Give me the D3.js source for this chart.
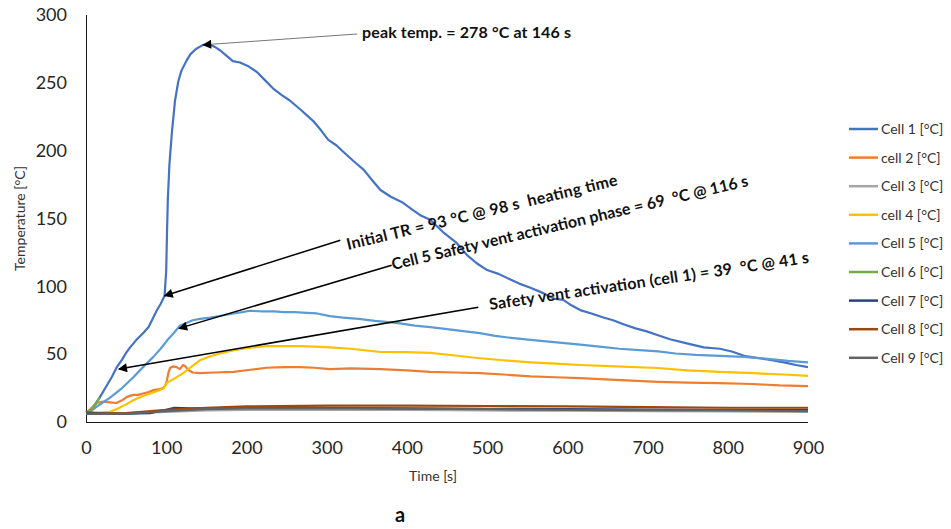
<!DOCTYPE html>
<meta charset="utf-8">
<html>
<head>
<script src="https://cdn.jsdelivr.net/npm/d3@7"></script>
<style>
body { margin:0; background:#fff; }
svg text { font-family:Lato, 'Open Sans', sans-serif; }
.y-axis text, .x-axis text { font-size:18px; fill:#262626; }
.y-axis path, .x-axis path { stroke:#1a1a1a; stroke-width:1; }
.series { fill:none; stroke-width:2.2; stroke-linejoin:round; }
.legend text { font-size:14px; fill:#333; }
.note { font-size:16px; font-weight:bold; fill:#111; white-space:pre; }
</style>
</head>
<body>
<script>

// ---- data (time [s], temperature [°C]) ----
var cell1 = [[0,7],[5,9],[10,12],[17,18],[25,26],[32,33],[38,40],[45,46],[50,51],[55,55],[62,60],[67,63],[72,66],[78,70],[83,76],[88,82],[93,87],[98,93],[100,112],[101,140],[102,164],[104,190],[107,213],[111,237],[115,251],[119,259],[125,266],[130,271],[137,275],[146,278],[155,278],[162,276],[167,274],[175,270],[183,266],[192,265],[203,262],[213,258],[223,252],[233,246],[244,241],[254,237],[268,230],[283,222],[293,215],[302,208],[312,204],[321,199],[334,192],[346,186],[357,178],[367,171],[380,166],[394,162],[408,156],[418,152],[429,149],[445,140],[462,132],[475,123],[487,117],[500,112],[515,109],[529,105],[540,102],[554,99],[570,95],[583,91],[595,90],[605,86],[616,82.5],[630,80],[645,77],[657,75],[670,72],[685,69],[698,67],[713,64],[728,61],[749,58],[770,55],[790,54],[805,52],[822,48.5],[840,47],[853,45.7],[870,44],[885,42],[900,40.5]];
var cell2 = [[0,7],[5,9],[13,14],[21,15],[30,14.5],[38,14],[45,16],[51,18.5],[59,20],[65,20],[71,21],[78,22],[84,23.5],[90,24],[96,25],[99,27],[101,31],[103,37],[105,40],[109,41],[113,40.5],[117,39],[121,42],[124,41],[127,38.5],[133,36.5],[142,36],[160,36.5],[184,37],[205,38.5],[225,40],[247,40.5],[267,40.5],[285,40],[304,39],[330,39.5],[367,39],[400,38],[429,37],[460,36.5],[491,36],[520,35],[554,33.6],[585,33],[616,32.4],[660,31],[713,29.6],[750,29],[790,28.7],[830,28],[865,27],[900,26.5]];
var cell3 = [[0,6.5],[50,6.5],[100,7.5],[150,8.5],[200,9],[300,9],[400,9],[500,8.5],[600,8.3],[700,8],[800,7.8],[900,7.5]];
var cell4 = [[0,7],[15,7],[30,7.5],[40,10],[50,13],[59,16],[70,19],[80,21],[92,23.5],[97,25],[101,29],[110,32],[121,36],[130,40],[142,45.5],[155,48.5],[170,51],[184,53],[200,54.5],[225,56],[245,56],[267,56],[285,55.5],[304,55],[330,54],[367,51.6],[400,51.5],[429,51],[460,49],[491,47],[520,45.5],[554,44],[585,43],[616,42],[660,41],[713,39.8],[749,38],[790,37],[832,36],[870,35],[900,34]];
var cell5 = [[0,7],[5,7.5],[15,12],[30,18],[45,25],[59,33],[72,41],[84,48],[93,54],[101,60],[110,66],[117,71],[125,73],[133,75],[142,76],[155,77],[170,78.5],[184,80],[195,81],[204,82],[220,81.5],[235,81.5],[246,81],[260,81],[275,80.5],[288,80],[304,78],[320,77],[340,76],[360,74.5],[387,73],[410,71],[429,70],[450,68.5],[470,67],[491,65.5],[510,63.5],[530,62],[554,60.5],[580,59],[600,58],[616,57],[640,55.5],[665,54],[690,53],[713,52],[735,50.5],[760,49.5],[790,48.7],[820,48],[850,46.5],[875,45],[900,44]];
var cell6 = [[0,7],[5,8],[10,11],[17,18]];
var cell7 = [[0,7],[40,6],[80,6.5],[100,9],[110,10.5],[130,10],[200,10.5],[300,10.5],[400,10],[500,9.7],[600,9.5],[700,9.2],[800,9],[900,9]];
var cell8 = [[0,6],[50,6.5],[100,9],[150,10.5],[200,11.5],[300,12],[400,12],[500,11.8],[600,11.5],[700,11],[800,10.5],[900,10.5]];
var cell9 = [[0,6],[50,6],[100,8],[150,9.5],[200,10],[300,10],[400,9.8],[500,9.5],[600,9],[700,8.8],[800,8.5],[900,8]];

var seriesNames = ["Cell 1 [°C]", "cell 2 [°C]", "Cell 3 [°C]", "cell 4 [°C]", "Cell 5 [°C]",
                   "Cell 6 [°C]", "Cell 7 [°C]", "Cell 8 [°C]", "Cell 9 [°C]"];
var seriesData = [cell1, cell2, cell3, cell4, cell5, cell6, cell7, cell8, cell9];
var colors = ["#4472C4", "#ED7D31", "#A5A5A5", "#FFC000", "#5B9BD5",
              "#70AD47", "#264478", "#9E480E", "#636363"];

var xTicks = [0, 100, 200, 300, 400, 500, 600, 700, 800, 900];
var yTicks = [0, 50, 100, 150, 200, 250, 300];

// annotations: label text, arrow target (data), line start (data)
var noteTexts = ["peak temp. = 278 °C at 146 s",
                 "Initial TR = 93 °C @ 98 s  heating time",
                 "Cell 5 Safety vent activation phase = 69  °C @ 116 s",
                 "Safety vent activation (cell 1) = 39  °C @ 41 s"];
var noteTargets = [[146, 278], [98, 93], [116, 69], [41, 39]];
var noteStarts = [[338, 286], [317, 134], [381, 115.5], [489, 84.5]];

//Margin conventions
var m = {top:15, left:86},
    w = 722,
    h = 407;

var svg = d3.select("body")
    .append("svg")
    .attr("width", 951)
    .attr("height", 529);

var g = svg.append("g")
    .attr("transform", `translate(${m.left}, ${m.top})`);

var x = d3.scaleLinear().domain([0, 900]).range([0, w]);
var y = d3.scaleLinear().domain([0, 300]).range([h, 0]);

//Axes
g.append("g")
    .attr("class", "x-axis")
    .attr("transform", `translate(0, ${h})`)
    .call(d3.axisBottom(x).tickValues(xTicks).tickSize(0).tickPadding(19))
    .call(a => a.select(".domain").attr("d", `M0,0.5H${w}`));

g.append("g")
    .attr("class", "y-axis")
    .call(d3.axisLeft(y).tickValues(yTicks).tickSize(0).tickPadding(19))
    .call(a => a.select(".domain").attr("d", `M0.5,${h}V0`));

//Axis titles
svg.append("text")
    .attr("transform", `translate(25, ${m.top + h / 2}) rotate(-90)`)
    .attr("text-anchor", "middle")
    .style("font-size", "14px")
    .style("fill", "#333")
    .text("Temperature [°C]");

svg.append("text")
    .attr("x", m.left + w / 2 - 14)
    .attr("y", 481)
    .attr("text-anchor", "middle")
    .style("font-size", "14px")
    .style("fill", "#333")
    .text("Time [s]");

svg.append("text")
    .attr("x", 400)
    .attr("y", 522)
    .attr("text-anchor", "middle")
    .style("font-size", "20px")
    .style("font-weight", "bold")
    .style("fill", "#111")
    .text("a");

//Series
var line = d3.line()
    .x(d => x(d[0]))
    .y(d => y(d[1]));

g.selectAll(".series")
    .data(seriesData)
    .enter()
    .append("path")
    .attr("class", "series")
    .attr("stroke", (d, i) => colors[i])
    .attr("d", line);

//Arrow marker
svg.append("defs").append("marker")
    .attr("id", "arrow")
    .attr("viewBox", "0 0 10 10")
    .attr("refX", 9)
    .attr("refY", 5)
    .attr("markerWidth", 12)
    .attr("markerHeight", 9)
    .attr("markerUnits", "userSpaceOnUse")
    .attr("orient", "auto")
    .append("path")
    .attr("d", "M0,0L10,5L0,10Z")
    .attr("fill", "#000");

//Annotations
g.selectAll(".note-line")
    .data(noteTargets)
    .enter()
    .append("line")
    .attr("class", "note-line")
    .attr("x1", (d, i) => x(noteStarts[i][0]))
    .attr("y1", (d, i) => y(noteStarts[i][1]))
    .attr("x2", d => x(d[0]))
    .attr("y2", d => y(d[1]))
    .attr("stroke", (d, i) => i == 0 ? "#777" : "#000")
    .attr("stroke-width", (d, i) => i == 0 ? 1 : 1.5)
    .attr("marker-end", "url(#arrow)");

// x, y, rotation, text length of each label
var notePos = [[362, 38, 0, 209], [348, 250, -13.5, 278], [393, 270, -13.3, 366], [490, 310, -8.4, 323]];

svg.selectAll(".note")
    .data(noteTexts)
    .enter()
    .append("text")
    .attr("class", "note")
    .attr("transform", (d, i) => `translate(${notePos[i][0]}, ${notePos[i][1]}) rotate(${notePos[i][2]})`)
    .attr("textLength", (d, i) => notePos[i][3])
    .attr("lengthAdjust", "spacing")
    .text(d => d);

//Legend
var legend = svg.append("g")
    .attr("class", "legend")
    .attr("transform", "translate(849, 129)");

var item = legend.selectAll("g")
    .data(seriesNames)
    .enter()
    .append("g")
    .attr("transform", (d, i) => `translate(0, ${i * 28.6})`);

item.append("line")
    .attr("x1", 0)
    .attr("x2", 29)
    .attr("stroke", (d, i) => colors[i])
    .attr("stroke-width", 2.5);

item.append("text")
    .attr("x", 32)
    .attr("dy", "0.35em")
    .text(d => d);

</script>
</body>
</html>
